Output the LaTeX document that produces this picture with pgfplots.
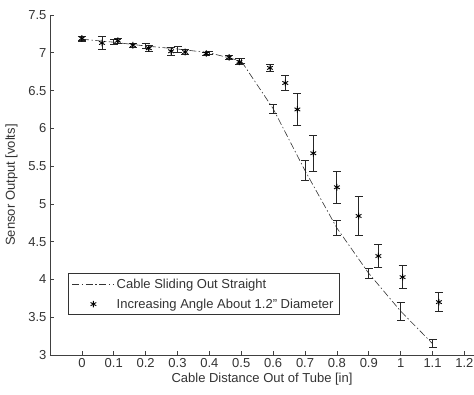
\documentclass[border=0pt]{standalone}
\usepackage{pgfplots}
\pgfplotsset{compat=1.18}
\usepackage{fontspec}
\setmainfont{Liberation Sans}
\begin{document}
\begin{tikzpicture}
\begin{axis}[
  scale only axis,
  width=424pt, height=340pt,
  xmin=-0.1, xmax=1.23,
  ymin=3, ymax=7.5,
  axis x line=bottom, axis y line=left,
  axis line style={-, black!75, line width=0.6pt},
  tick align=inside,
  tick style={black!75, line width=0.6pt},
  major tick length=4pt,
  xtick={0,0.1,...,1.2001},
  ytick={3,3.5,...,7.5},
  xticklabels={0,0.1,0.2,0.3,0.4,0.5,0.6,0.7,0.8,0.9,1,1.1,1.2},
  yticklabels={3,3.5,4,4.5,5,5.5,6,6.5,7,7.5},
  /pgf/number format/assume math mode=true,
  every tick label/.append style={font=\fontsize{13}{15}\selectfont, text=black!80},
  label style={font=\fontsize{13}{15}\selectfont, text=black!80},
  xlabel={Cable Distance Out of Tube [in]},
  ylabel={Sensor Output [volts]},
  xlabel style={yshift=2pt},
  ylabel style={yshift=4pt},
  legend style={at={(rel axis cs:0.042,0.118)}, anchor=south west,
    draw=black!80, line width=0.6pt, font=\fontsize{13}{15}\selectfont,
    inner xsep=4pt, inner ysep=3pt, row sep=5pt, text=black!80},
  legend cell align=left,
  legend image code/.code={\draw[mark repeat=2,mark phase=2,#1] plot coordinates {(0pt,0pt) (21pt,0pt) (42pt,0pt)};},
  clip=false,
]
\addplot[black!80, line width=0.6pt, dash pattern=on 7pt off 2.5pt on 1.5pt off 2.5pt,
  error bars/.cd, y dir=both, y explicit, error mark=|,
  error bar style={black!85, line width=0.9pt, solid},
  error mark options={black!85, line width=0.9pt, mark size=4pt, solid}]
  table[x=x, y=y, y error=e] {
x y e
0 7.18 0.03
0.1 7.14 0.03
0.2 7.09 0.03
0.3 7.05 0.04
0.4 7.00 0.02
0.5 6.89 0.03
0.6 6.26 0.06
0.7 5.44 0.13
0.8 4.68 0.10
0.9 4.08 0.07
1.0 3.58 0.12
1.1 3.15 0.05
};
\addlegendentry{Cable Sliding Out Straight}
\addplot[only marks, mark=asterisk, mark size=3.3pt, mark options={black, line width=0.9pt},
  error bars/.cd, y dir=both, y explicit, error mark=|,
  error bar style={black!85, line width=0.9pt},
  error mark options={black!85, line width=0.9pt, mark size=4pt}]
  table[x=x, y=y, y error=e] {
x y e
0 7.19 0.03
0.063 7.13 0.08
0.113 7.16 0.03
0.16 7.10 0.03
0.21 7.06 0.04
0.28 7.02 0.05
0.324 7.01 0.03
0.39 6.99 0.02
0.462 6.94 0.03
0.494 6.88 0.04
0.59 6.80 0.05
0.638 6.60 0.10
0.676 6.25 0.21
0.726 5.67 0.24
0.80 5.22 0.21
0.868 4.84 0.26
0.93 4.31 0.15
1.006 4.03 0.15
1.12 3.70 0.13
};
\addlegendentry{Increasing Angle About 1.2" Diameter}
\coordinate (sw) at (rel axis cs:0,0);
\coordinate (ne) at (rel axis cs:1,1);
\end{axis}
\pgfresetboundingbox
\path[use as bounding box] ([shift={(-50pt,-39pt)}]sw) rectangle ([shift={(0pt,15pt)}]ne);
\end{tikzpicture}
\end{document}
